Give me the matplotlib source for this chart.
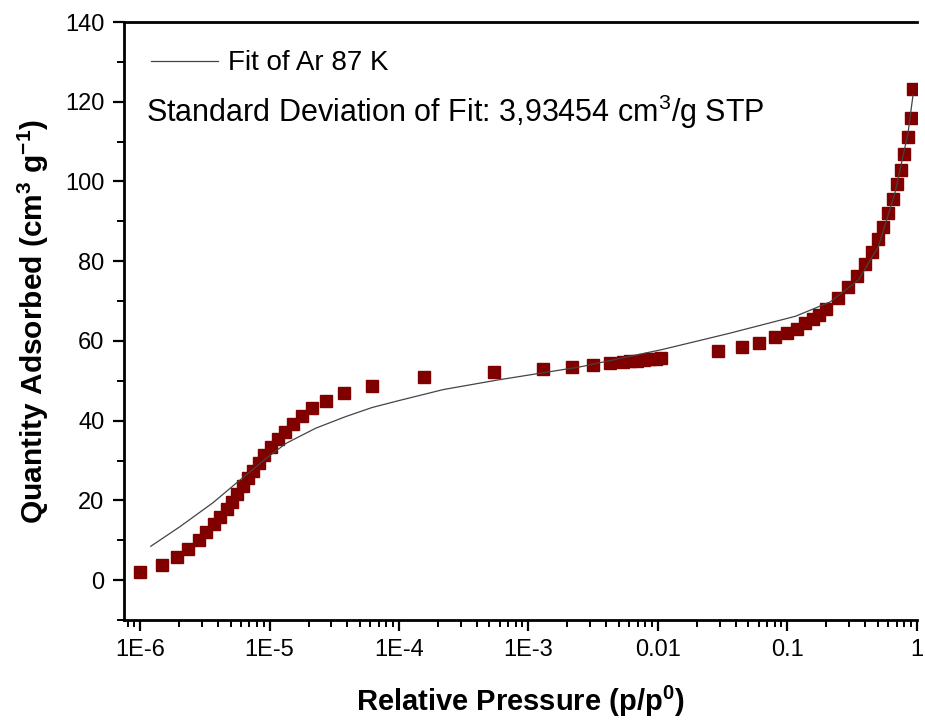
import numpy as np
import matplotlib.pyplot as plt
from matplotlib.ticker import FixedLocator, LogLocator, NullFormatter, MultipleLocator

plt.rcParams['font.family'] = ['Liberation Sans', 'DejaVu Sans']

# measured isotherm points (relative pressure, quantity adsorbed)
p_data = [1.0e-6, 1.47e-6, 1.93e-6, 2.36e-6, 2.84e-6, 3.25e-6, 3.72e-6, 4.16e-6,
          4.67e-6, 5.14e-6, 5.65e-6, 6.2e-6, 6.82e-6, 7.5e-6, 8.23e-6, 9.14e-6,
          1.03e-5, 1.17e-5, 1.31e-5, 1.51e-5, 1.77e-5, 2.14e-5, 2.72e-5, 3.79e-5,
          6.17e-5, 1.56e-4, 5.42e-4, 1.30e-3, 2.19e-3, 3.15e-3, 4.24e-3,
          5.36e-3, 6.06e-3, 6.86e-3, 7.76e-3, 8.63e-3, 9.6e-3, 1.05e-2,
          0.029, 0.0446, 0.060, 0.080, 0.099, 0.119, 0.138, 0.157, 0.177, 0.199,
          0.246, 0.297, 0.345, 0.399, 0.450, 0.500, 0.552, 0.603, 0.652, 0.707,
          0.750, 0.805, 0.858, 0.911, 0.944]
q_data = [2.0, 3.9, 5.8, 7.8, 10.0, 12.0, 14.0, 15.9,
          17.8, 19.6, 21.7, 23.6, 25.5, 27.4, 29.4, 31.3,
          33.3, 35.3, 37.2, 39.1, 41.1, 43.1, 45.0, 47.0,
          48.8, 50.9, 52.3, 52.9, 53.5, 53.9, 54.4,
          54.7, 54.9, 55.0, 55.2, 55.4, 55.5, 55.7,
          57.5, 58.4, 59.5, 60.9, 62.0, 63.1, 64.4, 65.4, 66.5, 67.9,
          70.7, 73.6, 76.4, 79.3, 82.3, 85.5, 88.6, 92.1, 95.6, 99.3,
          103.0, 106.9, 111.1, 115.8, 123.2]

# fit curve
p_fit = [1.21e-6, 2.03e-6, 3.65e-6, 5.52e-6, 9.38e-6, 1.34e-5, 2.27e-5, 3.86e-5,
         6.2e-5, 9.89e-5, 2.2e-4, 5.78e-4, 2.52e-3, 1.10e-2, 3.56e-2, 0.116, 0.215,
         0.355, 0.505, 0.678, 0.857, 0.937]
q_fit = [8.5, 13.4, 19.4, 24.3, 30.5, 34.3, 38.1, 41.0,
         43.3, 45.0, 47.8, 50.2, 53.5, 57.9, 61.9, 66.2, 69.8,
         75.3, 83.6, 97.0, 112.1, 121.7]

xtick_vals = [1e-6, 1e-5, 1e-4, 1e-3, 1e-2, 1e-1, 1]
xtick_labels = ['1E-6', '1E-5', '1E-4', '1E-3', '0.01', '0.1', '1']

fig = plt.figure(figsize=(9.25, 7.22), dpi=100)
ax = fig.add_axes([0.134, 0.1413, 0.857, 0.8282])

ax.plot(p_fit, q_fit, color='#444444', lw=0.9, label='Fit of Ar 87 K', zorder=3)
ax.plot(p_data, q_data, 's', color='#800000', mec='#800000', ms=8.5, zorder=2)

ax.set_xscale('log')
ax.set_xlim(7.5e-7, 1.0)
ax.set_ylim(-10, 140)

ax.xaxis.set_major_locator(FixedLocator(xtick_vals))
ax.set_xticklabels(xtick_labels)
ax.xaxis.set_minor_locator(LogLocator(base=10, subs=np.arange(2, 10)))
ax.xaxis.set_minor_formatter(NullFormatter())
ax.yaxis.set_major_locator(MultipleLocator(20))
ax.yaxis.set_minor_locator(MultipleLocator(10))

ax.tick_params(which='major', direction='out', length=8, width=1.6, labelsize=17, pad=6)
ax.tick_params(which='minor', direction='out', length=5, width=1.4)

for s in ['left', 'bottom', 'top']:
    ax.spines[s].set_linewidth(2)
ax.spines['right'].set_visible(False)

ax.set_xlabel('Relative Pressure (p/p$^\\mathregular{0}$)', fontsize=21, fontweight='bold', labelpad=16)
ax.set_ylabel('Quantity Adsorbed (cm$^\\mathregular{3}$ g$^\\mathregular{-1}$)', fontsize=21.5,
              fontweight='bold', labelpad=10)

ax.legend(loc='upper left', frameon=False, fontsize=20, handlelength=2.4,
          handletextpad=0.35, borderaxespad=0.3, bbox_to_anchor=(0.01, 0.985))
ax.text(0.028, 0.85, 'Standard Deviation of Fit: 3,93454 cm$^\\mathregular{3}$/g STP',
        transform=ax.transAxes, fontsize=22, va='center', ha='left')

fig.savefig('out.png', dpi=100)
